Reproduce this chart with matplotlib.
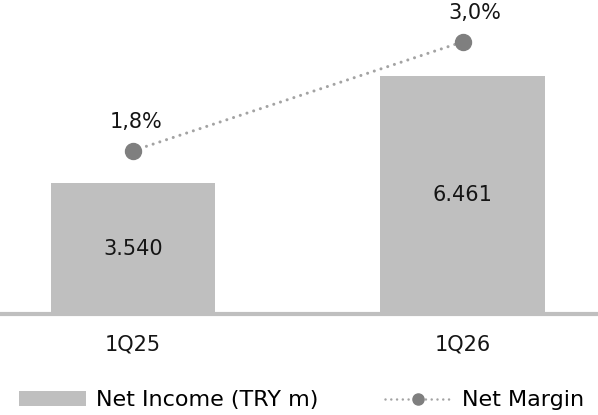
import matplotlib
matplotlib.use("Agg")
import matplotlib.pyplot as plt
from matplotlib.patches import Patch
from matplotlib.lines import Line2D

# data
quarters = ["1Q25", "1Q26"]
net_income = [3540, 6461]
income_labels = ["3.540", "6.461"]
net_margin = [1.8, 3.0]
margin_labels = ["1,8%", "3,0%"]
margin_label_dx = [3, 12]  # label nudge in px

BAR_COLOR = "#bfbfbf"
MARKER_COLOR = "#7f7f7f"
DOT_COLOR = "#a3a3a3"
TEXT_COLOR = "#151515"
FS_NUM = 15
FS_LEG = 16

plt.rcParams["font.family"] = ["DejaVu Sans"]

fig = plt.figure(figsize=(5.98, 4.15), dpi=100)
base_y = 314 / 415
ax = fig.add_axes([0, 1 - base_y, 1, base_y])
ax2 = ax.twinx()

x = list(range(len(quarters)))
ax.bar(x, net_income, width=0.5, color=BAR_COLOR, zorder=2)
for xi, v, lab in zip(x, net_income, income_labels):
    ax.text(xi, v / 2, lab, ha="center", va="center", fontsize=FS_NUM, color=TEXT_COLOR)

ax.set_xlim(-0.4036, 1.411)
ax.set_ylim(0, 8509)
ax2.set_ylim(0, 3.462)

dots = (0, (0.01, 2.3))
ax2.plot(x, net_margin, linestyle=dots, color=DOT_COLOR, linewidth=2.2,
         dash_capstyle="round", zorder=3)
ax2.plot(x, net_margin, linestyle="none", marker="o", markersize=11.5,
         markerfacecolor=MARKER_COLOR, markeredgecolor=MARKER_COLOR, zorder=4)
for xi, v, lab, dx in zip(x, net_margin, margin_labels, margin_label_dx):
    ax2.annotate(lab, (xi, v), xytext=(dx * 0.72, 20.5), textcoords="offset points",
                 ha="center", va="center", fontsize=FS_NUM, color=TEXT_COLOR)

for a in (ax, ax2):
    for s in ("top", "left", "right"):
        a.spines[s].set_visible(False)
    a.set_yticks([])
ax2.spines["bottom"].set_visible(False)
ax.spines["bottom"].set_color(BAR_COLOR)
ax.spines["bottom"].set_linewidth(3)
ax.spines["bottom"].set_zorder(5)

ax.set_xticks(x)
ax.set_xticklabels(quarters, fontsize=FS_NUM, color=TEXT_COLOR)
ax.tick_params(axis="x", length=0, pad=15)

handles = [
    Patch(facecolor=BAR_COLOR, edgecolor="none", label="Net Income (TRY m)"),
    Line2D([], [], linestyle=(0, (0.01, 2.3)), color=DOT_COLOR, linewidth=1.8,
           dash_capstyle="round", marker="o", markersize=8,
           markerfacecolor=MARKER_COLOR, markeredgecolor=MARKER_COLOR,
           label="Net Margin"),
]
fig.legend(handles=handles, loc="center", bbox_to_anchor=(0.504, 0.036),
           ncol=2, frameon=False, fontsize=FS_LEG, handlelength=3.0,
           handleheight=0.63, handletextpad=0.45, columnspacing=3.0)

fig.savefig("out.png", dpi=100)
